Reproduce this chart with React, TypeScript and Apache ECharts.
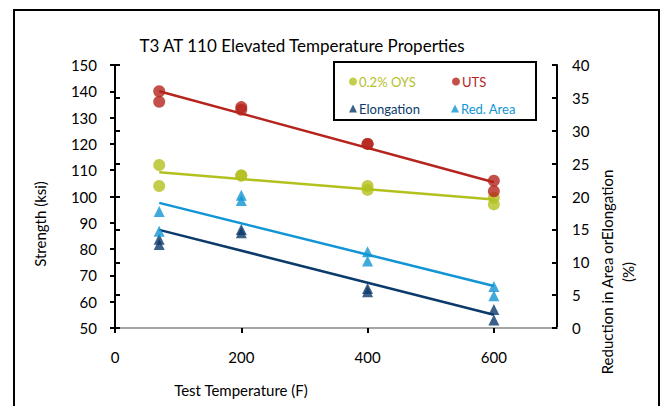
import React, { useEffect, useRef } from "react";
import * as echarts from "echarts";

const temps = [70, 70, 200, 200, 400, 400, 600, 600];
const oys = [112, 104, 108, 108, 104, 102.5, 99.5, 97];
const uts = [140, 136, 134, 133, 120, 120, 106, 102];
const elongation = [13.5, 12.7, 15, 14.5, 6, 5.5, 2.8, 1.2];
const redArea = [17.7, 14.7, 20.2, 19.4, 11.6, 10.2, 6.3, 4.9];

const titleText = "T3 AT 110 Elevated Temperature Properties";
const xName = "Test Temperature (F)";
const yLeftName = "Strength (ksi)";
const yRightName = "Reduction in Area orElongation\n(%)";

const C_OYS = "#b3c11f";
const C_UTS = "#b5241d";
const C_EL = "#0b3a6b";
const C_RA = "#1195d5";
const FONT = "Lato, 'Open Sans', sans-serif";

function trend(xs: number[], ys: number[]): number[][] {
  const n = xs.length;
  const mx = xs.reduce((a, b) => a + b, 0) / n;
  const my = ys.reduce((a, b) => a + b, 0) / n;
  let sxy = 0;
  let sxx = 0;
  for (let i = 0; i < n; i++) {
    sxy += (xs[i] - mx) * (ys[i] - my);
    sxx += (xs[i] - mx) * (xs[i] - mx);
  }
  const slope = sxy / sxx;
  const x0 = Math.min(...xs);
  const x1 = Math.max(...xs);
  return [
    [x0, my + slope * (x0 - mx)],
    [x1, my + slope * (x1 - mx)],
  ];
}

const pts = (ys: number[]) => temps.map((t, i) => [t, ys[i]]);

export default function App() {
  const ref = useRef<HTMLDivElement>(null);
  useEffect(() => {
    if (!ref.current) return;
    const chart = echarts.init(ref.current, undefined, { renderer: "svg" });
    const axisLine = { show: true, lineStyle: { color: "#000", width: 2 } };
    const legendItem = (name: string, color: string, icon: string, left: number, top: number) => ({
      left,
      top,
      icon,
      itemWidth: 8,
      itemHeight: 8,
      itemGap: 4,
      data: [{ name, textStyle: { color } }],
      textStyle: { fontFamily: FONT, fontSize: 13, padding: [0, 0, 0, -3] },
    });
    chart.setOption({
      animation: false,
      backgroundColor: "#fff",
      title: {
        text: titleText,
        left: 297,
        top: 32,
        textAlign: "center",
        textStyle: { fontFamily: FONT, fontSize: 17, fontWeight: "normal", color: "#000" },
      },
      legend: [
        legendItem("0.2% OYS", C_OYS, "circle", 344, 70),
        legendItem("UTS", C_UTS, "circle", 447, 70),
        legendItem("Elongation", C_EL, "triangle", 344, 97),
        legendItem("Red. Area", C_RA, "triangle", 446, 97),
      ],
      grid: { left: 115, right: 108, top: 65, bottom: 78 },
      xAxis: [
        {
          type: "value",
          min: 0,
          max: 700,
          interval: 200,
          axisLine,
          axisTick: { show: true, inside: false, length: 5, lineStyle: { color: "#000", width: 2 } },
          axisLabel: { showMaxLabel: false, color: "#000", fontFamily: FONT, fontSize: 15, margin: 21 },
          splitLine: { show: false },
        },
        {
          type: "value",
          position: "top",
          min: 0,
          max: 700,
          axisLine: { show: true, lineStyle: { color: "#a6a6a6", width: 2 } },
          axisTick: { show: false },
          axisLabel: { show: false },
          splitLine: { show: false },
        },
      ],
      yAxis: [
        {
          type: "value",
          position: "left",
          min: 50,
          max: 150,
          interval: 10,
          axisLine,
          axisTick: { show: true, inside: false, length: 5, lineStyle: { color: "#000", width: 2 } },
          axisLabel: { color: "#000", fontFamily: FONT, fontSize: 15, margin: 18 },
          splitLine: { show: false },
        },
        {
          type: "value",
          position: "right",
          min: 0,
          max: 40,
          interval: 5,
          axisLine,
          axisTick: { show: true, inside: false, length: 5, lineStyle: { color: "#000", width: 2 } },
          axisLabel: { color: "#000", fontFamily: FONT, fontSize: 15, margin: 15 },
          splitLine: { show: false },
        },
        {
          type: "value",
          position: "right",
          min: 0,
          max: 40,
          interval: 5,
          axisLine,
          axisTick: { show: true, inside: true, length: 5, lineStyle: { color: "#000", width: 2 } },
          axisLabel: { show: false },
          splitLine: { show: false },
        },
      ],
      graphic: [
        {
          type: "rect",
          shape: { x: 14, y: 10, width: 645, height: 420 },
          style: { fill: "none", stroke: "#000", lineWidth: 2 },
          silent: true,
        },
        {
          type: "rect",
          shape: { x: 334, y: 62, width: 202, height: 58 },
          style: { fill: "#fff", stroke: "#000", lineWidth: 2 },
          z: 1,
          silent: true,
        },
        {
          type: "text",
          x: 40,
          y: 224,
          rotation: Math.PI / 2,
          style: { text: yLeftName, fill: "#000", font: `15px ${FONT}`, textAlign: "center", textVerticalAlign: "middle" },
        },
        {
          type: "text",
          x: 617,
          y: 272,
          rotation: Math.PI / 2,
          style: { text: yRightName, fill: "#000", font: `15px ${FONT}`, textAlign: "center", textVerticalAlign: "middle", lineHeight: 21 },
        },
        {
          type: "text",
          x: 241,
          y: 390,
          style: { text: xName, fill: "#000", font: `15px ${FONT}`, textAlign: "center", textVerticalAlign: "middle" },
        },
      ],
      series: [
        { name: "OYS trend", type: "line", data: trend(temps, oys), showSymbol: false, lineStyle: { color: C_OYS, width: 2.5 }, yAxisIndex: 0, z: 2 },
        { name: "UTS trend", type: "line", data: trend(temps, uts), showSymbol: false, lineStyle: { color: C_UTS, width: 2.5 }, yAxisIndex: 0, z: 2 },
        { name: "El trend", type: "line", data: trend(temps, elongation), showSymbol: false, lineStyle: { color: C_EL, width: 2.5 }, yAxisIndex: 1, z: 2 },
        { name: "RA trend", type: "line", data: trend(temps, redArea), showSymbol: false, lineStyle: { color: C_RA, width: 2.5 }, yAxisIndex: 1, z: 2 },
        { name: "0.2% OYS", type: "scatter", data: pts(oys), symbol: "circle", symbolSize: 12, itemStyle: { color: C_OYS }, yAxisIndex: 0, z: 3 },
        { name: "UTS", type: "scatter", data: pts(uts), symbol: "circle", symbolSize: 12, itemStyle: { color: C_UTS }, yAxisIndex: 0, z: 3 },
        { name: "Elongation", type: "scatter", data: pts(elongation), symbol: "triangle", symbolSize: 11, itemStyle: { color: C_EL }, yAxisIndex: 1, z: 3 },
        { name: "Red. Area", type: "scatter", data: pts(redArea), symbol: "triangle", symbolSize: 11, itemStyle: { color: C_RA }, yAxisIndex: 1, z: 3 },
      ],
    });
    return () => chart.dispose();
  }, []);
  return <div ref={ref} style={{ width: 665, height: 406, position: "absolute", left: 0, top: 0 }} />;
}
